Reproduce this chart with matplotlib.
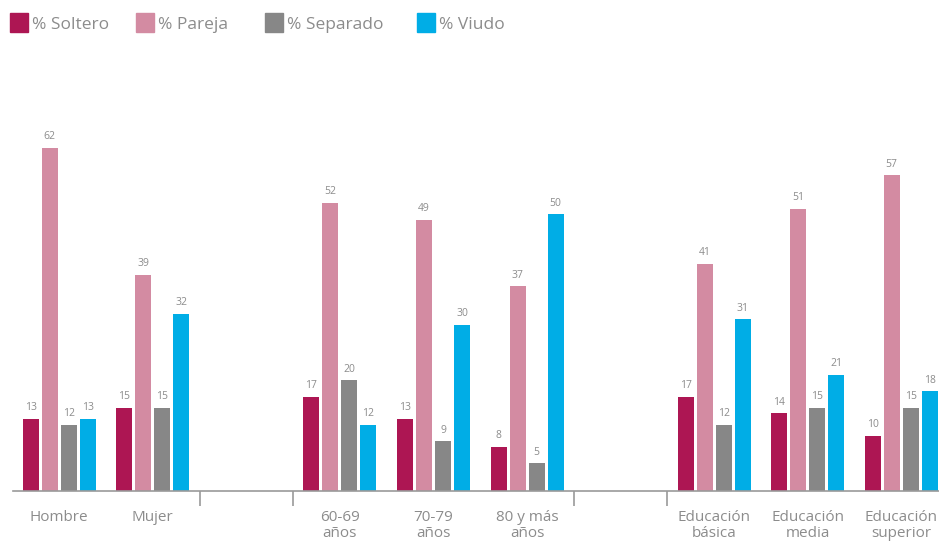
import matplotlib
matplotlib.use("Agg")
import matplotlib.pyplot as plt
from matplotlib.patches import Rectangle
import numpy as np

plt.rcParams['font.family'] = ['Open Sans', 'DejaVu Sans']

categories = ["Hombre", "Mujer", "", "60-69\naños", "70-79\naños", "80 y más\naños",
              "", "Educación\nbásica", "Educación\nmedia", "Educación\nsuperior"]
series_names = ["% Soltero", "% Pareja", "% Separado", "% Viudo"]
soltero = [13, 15, None, 17, 13, 8, None, 17, 14, 10]
pareja = [62, 39, None, 52, 49, 37, None, 41, 51, 57]
separado = [12, 15, None, 20, 9, 5, None, 12, 15, 15]
viudo = [13, 32, None, 12, 30, 50, None, 31, 21, 18]
colors = ["#AD1653", "#D38BA2", "#878787", "#00ADE6"]
separators = [1.5, 2.5, 5.5, 6.5]

W, H = 939, 544
fig = plt.figure(figsize=(W / 100, H / 100), dpi=100)
ax_left, ax_right = 12.5 / W, 948 / W
ax_bottom, ax_top = 1 - 491 / H, 1 - 48 / H
ax = fig.add_axes([ax_left, ax_bottom, ax_right - ax_left, ax_top - ax_bottom])

label_color = "#8C8C8C"
bw = 0.171
step = 0.203
offsets = [-1.5 * step, -0.5 * step, 0.5 * step, 1.5 * step]
all_series = [soltero, pareja, separado, viudo]
for s, vals in enumerate(all_series):
    xs = [i + offsets[s] for i, v in enumerate(vals) if v is not None]
    ys = [v for v in vals if v is not None]
    bars = ax.bar(xs, ys, width=bw, color=colors[s], label=series_names[s], zorder=2)
    for x, y in zip(xs, ys):
        ax.annotate(str(y), (x, y), xytext=(0, 4), textcoords="offset points",
                    ha="center", va="bottom", fontsize=7.5, color=label_color)

ax.set_xlim(-0.5, 9.5)
ax.set_ylim(0, 80)
for sp in ["top", "right", "left"]:
    ax.spines[sp].set_visible(False)
ax.spines["bottom"].set_color("#9A9A9A")
ax.spines["bottom"].set_linewidth(1.2)
ax.set_yticks([])
ax.set_xticks(separators)
ax.set_xticklabels([])
ax.tick_params(axis="x", length=11, width=1.2, color="#9A9A9A", direction="out")
for i, c in enumerate(categories):
    if c:
        ax.text(i, -0.042, c, transform=ax.get_xaxis_transform(), ha="center", va="top",
                fontsize=11, color=label_color, linespacing=1.15, clip_on=False)

# legend
leg_x = [10, 136, 265, 417]
for s, name in enumerate(series_names):
    x0 = leg_x[s]
    fig.add_artist(Rectangle((x0 / W, 1 - 32 / H), 18 / W, 19 / H, transform=fig.transFigure,
                             color=colors[s]))
    fig.text((x0 + 22) / W, 1 - 25 / H, name, ha="left", va="center", fontsize=12.5,
             color=label_color)

fig.savefig("out.png", dpi=100)
